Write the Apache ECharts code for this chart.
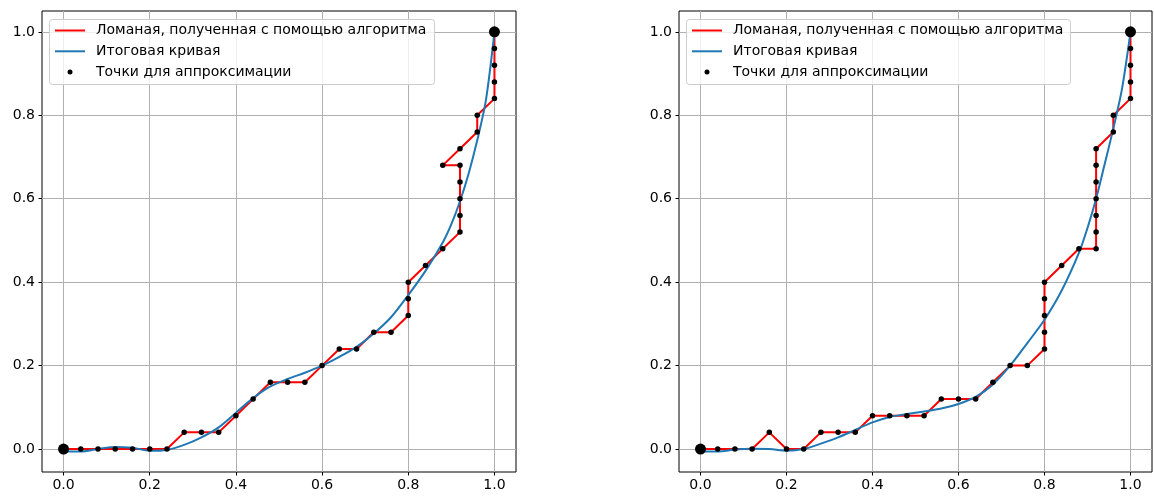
<!DOCTYPE html>
<html><head><meta charset="utf-8">
<script src="https://cdn.jsdelivr.net/npm/echarts@6/dist/echarts.min.js"></script>
<style>html,body{margin:0;padding:0;background:#fff}#c{width:1154px;height:498px}</style>
</head><body><div id="c"></div><script>
const seriesNames = ['Ломаная, полученная с помощью алгоритма', 'Итоговая кривая', 'Точки для аппроксимации'];
const tickValues = [0, 0.2, 0.4, 0.6, 0.8, 1.0];

const leftPolyline = [[0,0],[0.04,0],[0.08,0],[0.12,0],[0.16,0],[0.2,0],[0.24,0],[0.28,0.04],[0.32,0.04],[0.36,0.04],[0.4,0.08],[0.44,0.12],[0.48,0.16],[0.52,0.16],[0.56,0.16],[0.6,0.2],[0.64,0.24],[0.68,0.24],[0.72,0.28],[0.76,0.28],[0.8,0.32],[0.8,0.36],[0.8,0.4],[0.84,0.44],[0.88,0.48],[0.92,0.52],[0.92,0.56],[0.92,0.6],[0.92,0.64],[0.92,0.68],[0.88,0.68],[0.92,0.72],[0.96,0.76],[0.96,0.8],[1,0.84],[1,0.88],[1,0.92],[1,0.96],[1,1]];
const leftCurve = [[0,-0.006],[0.04,-0.006],[0.08,0.0],[0.12,0.005],[0.16,0.003],[0.2,-0.004],[0.24,-0.002],[0.28,0.01],[0.32,0.028],[0.36,0.052],[0.4,0.087],[0.44,0.122],[0.48,0.15],[0.52,0.168],[0.56,0.183],[0.6,0.2],[0.64,0.221],[0.68,0.245],[0.72,0.277],[0.76,0.316],[0.8,0.369],[0.84,0.427],[0.88,0.495],[0.9,0.539],[0.92,0.594],[0.94,0.66],[0.96,0.74],[0.98,0.835],[1,1]];

const rightPolyline = [[0,0],[0.04,0],[0.08,0],[0.12,0],[0.16,0.04],[0.2,0],[0.24,0],[0.28,0.04],[0.32,0.04],[0.36,0.04],[0.4,0.08],[0.44,0.08],[0.48,0.08],[0.52,0.08],[0.56,0.12],[0.6,0.12],[0.64,0.12],[0.68,0.16],[0.72,0.2],[0.76,0.2],[0.8,0.24],[0.8,0.28],[0.8,0.32],[0.8,0.36],[0.8,0.4],[0.84,0.44],[0.88,0.48],[0.92,0.48],[0.92,0.52],[0.92,0.56],[0.92,0.6],[0.92,0.64],[0.92,0.68],[0.92,0.72],[0.96,0.76],[0.96,0.8],[1,0.84],[1,0.88],[1,0.92],[1,0.96],[1,1]];
const rightCurve = [[0,-0.006],[0.04,-0.006],[0.08,-0.001],[0.12,0.001],[0.16,0.0],[0.2,-0.004],[0.24,0.0],[0.28,0.013],[0.32,0.028],[0.36,0.046],[0.4,0.064],[0.44,0.077],[0.48,0.084],[0.52,0.09],[0.56,0.097],[0.6,0.108],[0.64,0.125],[0.68,0.155],[0.72,0.2],[0.76,0.254],[0.8,0.31],[0.84,0.38],[0.88,0.47],[0.9,0.53],[0.92,0.6],[0.94,0.683],[0.96,0.768],[0.98,0.862],[1,1]];

const FONT = 'DejaVu Sans';
const DOT_ICON = 'path://M0,0L0,0M30,14L30,14M12.5,7A2.5,2.5,0,1,1,17.5,7A2.5,2.5,0,1,1,12.5,7Z';
const plots = [
  {poly: leftPolyline, curve: leftCurve, grid: {left: 42, top: 11, width: 474, height: 461}, legendLeft: 54, box: {x: 49.5, y: 19.5, width: 385, height: 65}},
  {poly: rightPolyline, curve: rightCurve, grid: {left: 679, top: 11, width: 473, height: 461}, legendLeft: 691, box: {x: 686.5, y: 19.5, width: 384, height: 65}}
];

function axis(i, isX) {
  return {
    type: 'value', gridIndex: i,
    min: isX ? -0.05 : -0.055, max: 1.05,
    axisLine: {show: false, onZero: false},
    axisTick: {show: true, length: 3.5, inside: false, customValues: tickValues, lineStyle: {color: '#000', width: 1}},
    axisLabel: {customValues: tickValues, formatter: v => v.toFixed(1), color: '#000', fontSize: 14, fontFamily: FONT, margin: isX ? 6 : 7},
    splitLine: {show: true, lineStyle: {color: '#b0b0b0', width: 1}}
  };
}

const option = {
  animation: false,
  backgroundColor: '#fff',
  grid: plots.map(p => Object.assign({show: true, borderColor: '#000', borderWidth: 1, containLabel: false}, p.grid)),
  xAxis: plots.map((p, i) => axis(i, true)),
  yAxis: plots.map((p, i) => axis(i, false)),
  graphic: plots.map(p => ({type: 'rect', z: 3, shape: Object.assign({r: 3}, p.box), style: {fill: 'rgba(255,255,255,0.8)', stroke: '#cccccc', lineWidth: 1}})),
  legend: plots.map(p => ({
    data: [
      {name: seriesNames[0], itemStyle: {opacity: 0}},
      {name: seriesNames[1], itemStyle: {opacity: 0}},
      {name: seriesNames[2], icon: DOT_ICON}
    ],
    orient: 'vertical', left: p.legendLeft, top: 23.5, itemWidth: 30, itemHeight: 14, itemGap: 6.8, padding: 0, selectedMode: false, z: 4,
    textStyle: {fontSize: 14, lineHeight: 14, fontFamily: FONT, color: '#000', padding: [0, 0, 0, 6]}
  })),
  series: [].concat(...plots.map((p, i) => [
    {type: 'scatter', name: seriesNames[2], xAxisIndex: i, yAxisIndex: i, data: p.poly,
     symbolSize: (v, prm) => (prm.dataIndex === 0 || prm.dataIndex === p.poly.length - 1) ? 11 : 5.5,
     itemStyle: {color: '#000', opacity: 1}, z: 2},
    {type: 'line', name: seriesNames[0], xAxisIndex: i, yAxisIndex: i, data: p.poly, symbol: 'none',
     lineStyle: {color: '#ff0000', width: 2}, itemStyle: {color: '#ff0000'}, z: 2},
    {type: 'line', name: seriesNames[1], xAxisIndex: i, yAxisIndex: i, data: p.curve, symbol: 'none', smooth: 0.3,
     lineStyle: {color: '#1f77b4', width: 2}, itemStyle: {color: '#1f77b4'}, z: 2}
  ]))
};

const chart = echarts.init(document.getElementById('c'), null, {renderer: 'canvas'});
chart.setOption(option);
</script></body></html>
